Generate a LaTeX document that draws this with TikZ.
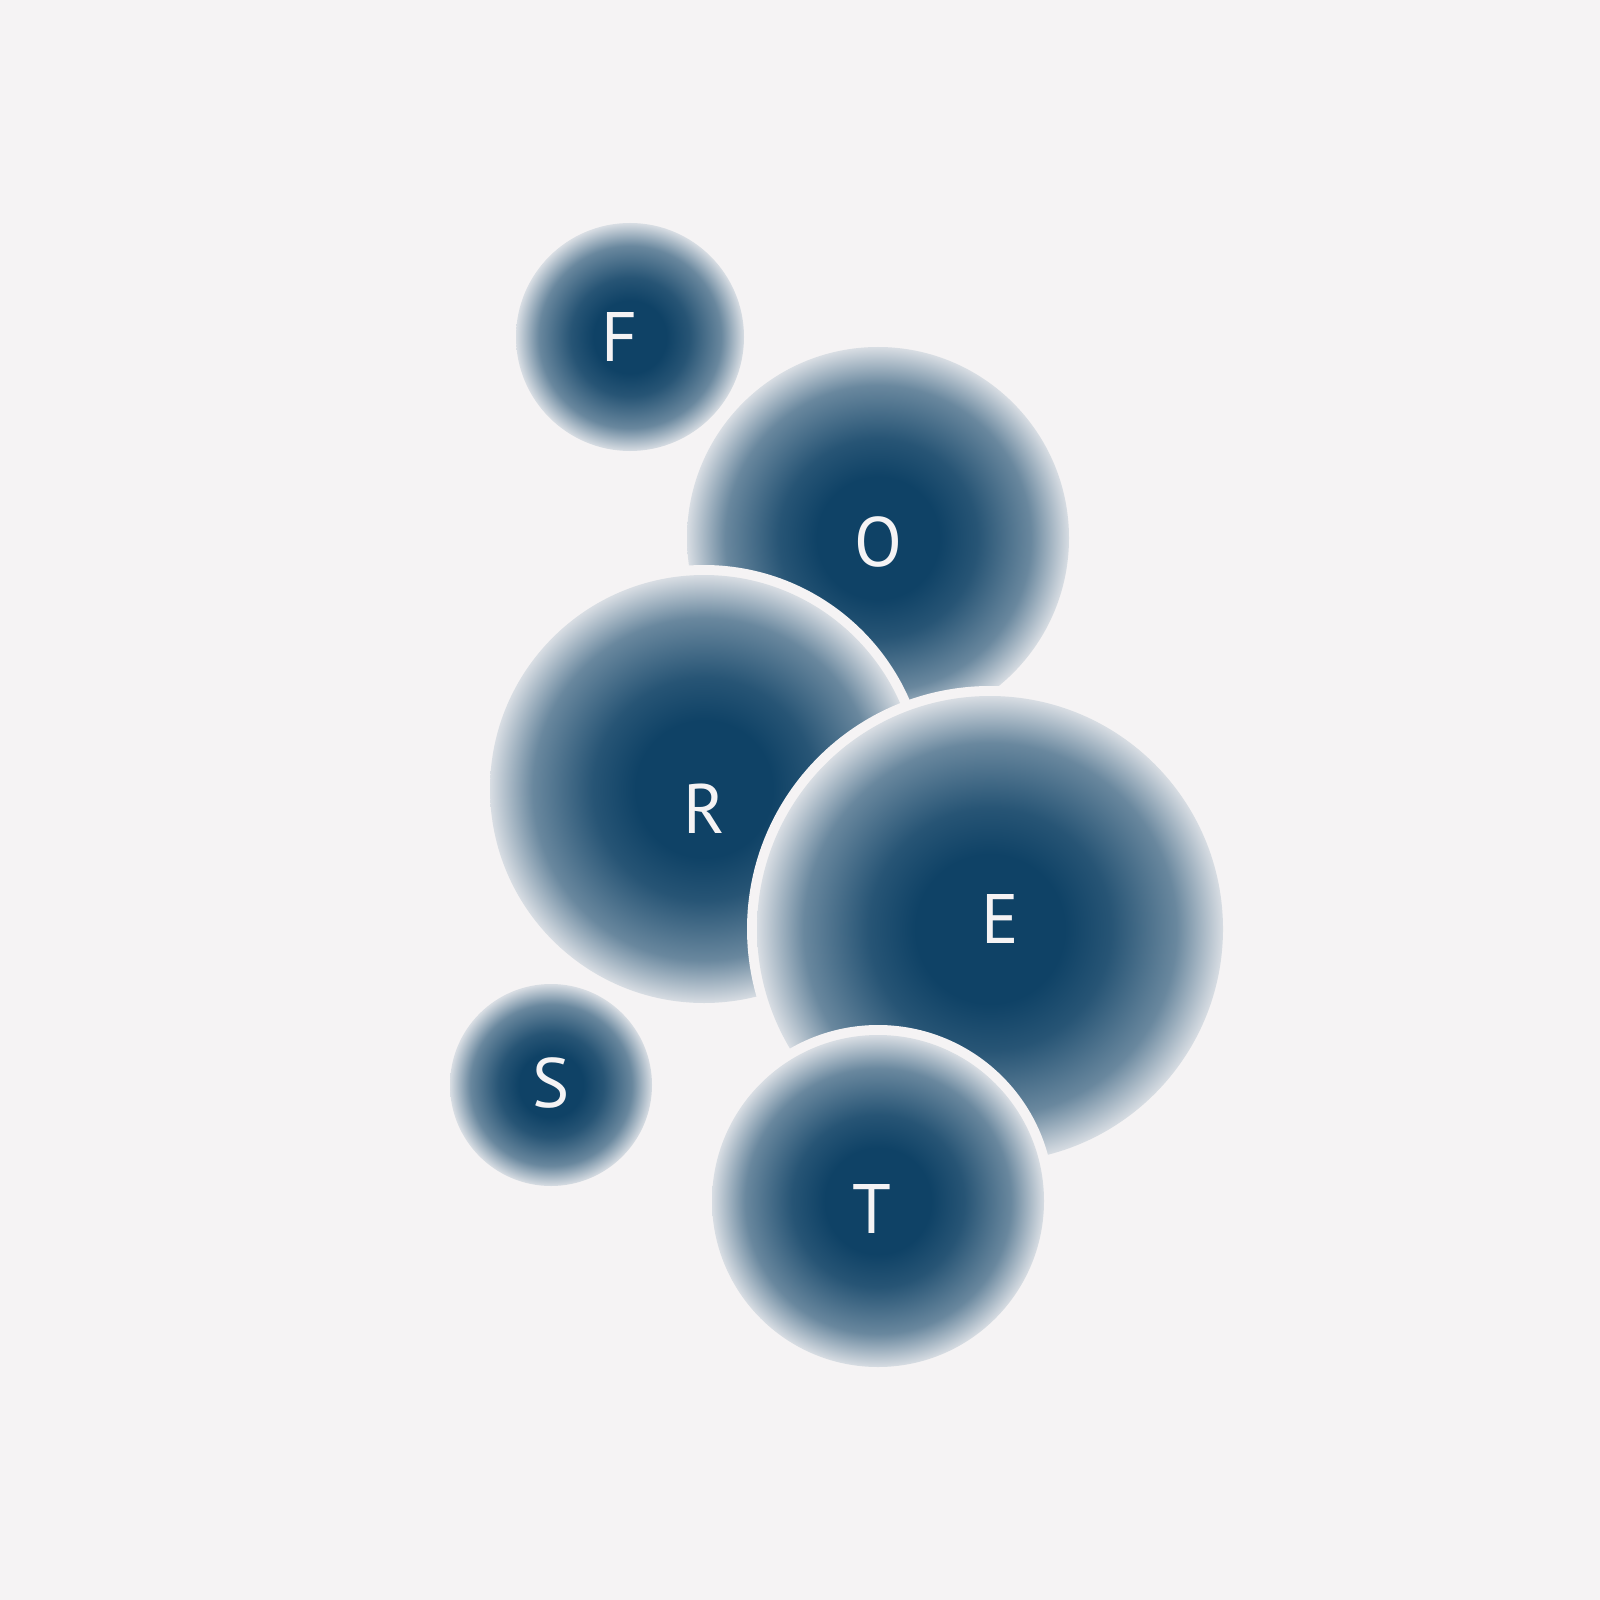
\documentclass[tikz,border=0pt]{standalone}
\usepackage{fontspec}
\setmainfont{PT Sans}
\definecolor{paper}{HTML}{F5F3F4}
\definecolor{deep}{HTML}{0F4266}
\definecolor{rim}{HTML}{D8DDE3}
\pgfdeclareradialshading{bubbleshade}{\pgfpoint{0bp}{0bp}}{%
  color(0bp)=(deep); color(8bp)=(deep); color(13bp)=(deep!88!rim);
  color(20bp)=(deep!55!rim); color(25bp)=(rim); color(50bp)=(rim)}
\tikzset{
    bubble/.style={
        circle,
        inner sep=0pt,
        minimum size=#1*0.6pt,
        shading=bubbleshade,
        preaction={fill=paper, draw=paper, line width=6pt}
    },
    letter/.style={
        text=paper,
        inner sep=0pt,
        font=\fontsize{21}{25}\selectfont
    }
}

\begin{document}
\begin{tikzpicture}[
    x=0.3pt,
    y=-0.3pt
]

    % Fond
    \fill[paper] (0,0) rectangle (1600,1600);
    \useasboundingbox (0,0) rectangle (1600,1600);

    % Bulles
    \node[bubble=114] (bF) at (630,337)  {};
    \node[bubble=191] (bO) at (878,538)  {};
    \node[bubble=214] (bR) at (704,789)  {};
    \node[bubble=233] (bE) at (990,929)  {};
    \node[bubble=101] (bS) at (551,1085) {};
    \node[bubble=166] (bT) at (878,1201) {};

    % Lettres
    \node[letter] (lF) at (620,337)  {F};
    \node[letter] (lO) at (878,542)  {O};
    \node[letter] (lR) at (704,809)  {R};
    \node[letter] (lE) at (1000,919) {E};
    \node[letter] (lS) at (551,1083) {S};
    \node[letter] (lT) at (872,1209) {T};

\end{tikzpicture}
\end{document}
